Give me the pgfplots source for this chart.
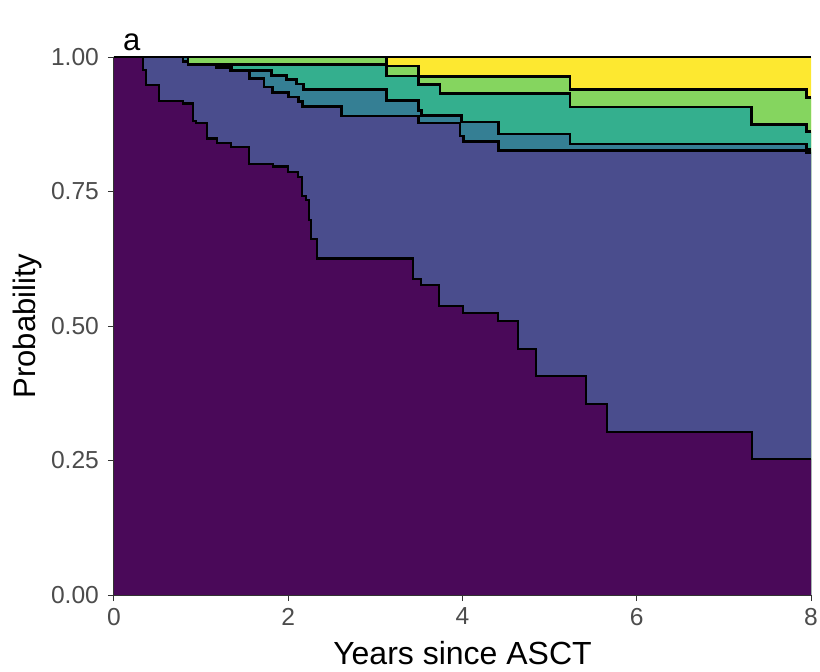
\documentclass[border=0pt]{standalone}
\usepackage{fontspec}
\setmainfont{Liberation Sans}
\usepackage{pgfplots}
\usepackage{pgfplotstable}
\pgfplotsset{compat=1.18}

% viridis, six states
\definecolor{vA}{HTML}{440154}
\definecolor{vB}{HTML}{414487}
\definecolor{vC}{HTML}{2A788E}
\definecolor{vD}{HTML}{22A884}
\definecolor{vE}{HTML}{7AD151}
\definecolor{vF}{HTML}{FDE725}

% upper edge of each stacked state, step values (value holds from x on)
\pgfplotstableread{
x y
0     1.000
0.333 0.976
0.367 0.948
0.516 0.918
0.792 0.914
0.907 0.881
0.941 0.877
1.067 0.848
1.182 0.840
1.343 0.833
1.549 0.801
1.825 0.796
1.997 0.786
2.112 0.777
2.158 0.742
2.204 0.734
2.238 0.697
2.261 0.662
2.330 0.626
3.432 0.587
3.524 0.576
3.730 0.537
4.006 0.524
4.407 0.509
4.637 0.457
4.844 0.407
5.418 0.355
5.659 0.303
7.323 0.253
8.000 0.253
}\tA
\pgfplotstableread{
x y
0     1.000
0.792 0.992
0.849 0.985
1.179 0.981
1.339 0.975
1.553 0.960
1.722 0.944
1.822 0.934
2.001 0.926
2.115 0.917
2.166 0.908
2.614 0.890
3.493 0.877
3.971 0.853
4.009 0.843
4.411 0.826
7.951 0.823
8.000 0.823
}\tB
\pgfplotstableread{
x y
0     1.000
0.849 0.986
1.179 0.982
1.351 0.975
1.810 0.966
1.982 0.958
2.097 0.950
2.173 0.940
3.130 0.919
3.493 0.901
3.532 0.891
3.991 0.879
4.411 0.857
5.234 0.838
7.951 0.828
8.000 0.828
}\tC
\pgfplotstableread{
x y
0     1.000
0.849 0.986
3.130 0.965
3.493 0.949
3.742 0.932
5.234 0.907
7.319 0.875
7.951 0.861
8.000 0.861
}\tD
\pgfplotstableread{
x y
0     1.000
3.130 0.983
3.493 0.964
5.234 0.940
7.951 0.925
8.000 0.925
}\tE
\pgfplotstableread{
x y
0 1
8 1
}\tF

\begin{document}
\begin{tikzpicture}
\useasboundingbox (-57pt,-38pt) rectangle (353pt,297.5pt);
\begin{axis}[at={(0,0)}, anchor=south west,
    scale only axis, width=348.5pt, height=269pt,
    xmin=0, xmax=8, ymin=0, ymax=1,
    axis lines*=left,
    axis line style={-, draw=black!80, line width=0.5pt},
    tick align=outside,
    major tick length=3pt,
    tick style={black!80, line width=0.5pt},
    xtick={0,2,4,6,8}, xticklabels={0,2,4,6,8},
    ytick={0,0.25,0.5,0.75,1}, yticklabels={0.00,0.25,0.50,0.75,1.00},
    ticklabel style={font=\fontsize{12.3}{14}\selectfont, text=black!70},
    yticklabel style={xshift=-1pt},
    axis on top,
    clip=false]

\addplot[const plot, fill=vF!95!white, draw=none] table {\tF} \closedcycle;
\addplot[const plot, fill=vE!92!white, draw=none] table {\tE} \closedcycle;
\addplot[const plot, fill=vD!92!white, draw=none] table {\tD} \closedcycle;
\addplot[const plot, fill=vC!95!white, draw=none] table {\tC} \closedcycle;
\addplot[const plot, fill=vB!95!white, draw=none] table {\tB} \closedcycle;
\addplot[const plot, fill=vA!97!white, draw=none] table {\tA} \closedcycle;

\addplot[const plot, black, line width=0.6pt] table {\tF};
\addplot[const plot, black, line width=1.3pt] table {\tE};
\addplot[const plot, black, line width=1.3pt] table {\tD};
\addplot[const plot, black, line width=1.3pt] table {\tC};
\addplot[const plot, black, line width=1.3pt] table {\tB};
\addplot[const plot, black, line width=1.3pt] table {\tA};

\node[anchor=base, font=\fontsize{16}{19}\selectfont]
    at ([yshift=-34.5pt]rel axis cs:0.5,0) {Years since ASCT};
\node[anchor=base, rotate=90, font=\fontsize{15.5}{18}\selectfont]
    at ([xshift=-39pt]rel axis cs:0,0.5) {Probability};
\node[anchor=base west, font=\fontsize{15.5}{18}\selectfont]
    at ([xshift=1pt, yshift=3.5pt]rel axis cs:0,1) {a};
\end{axis}
\end{tikzpicture}
\end{document}
